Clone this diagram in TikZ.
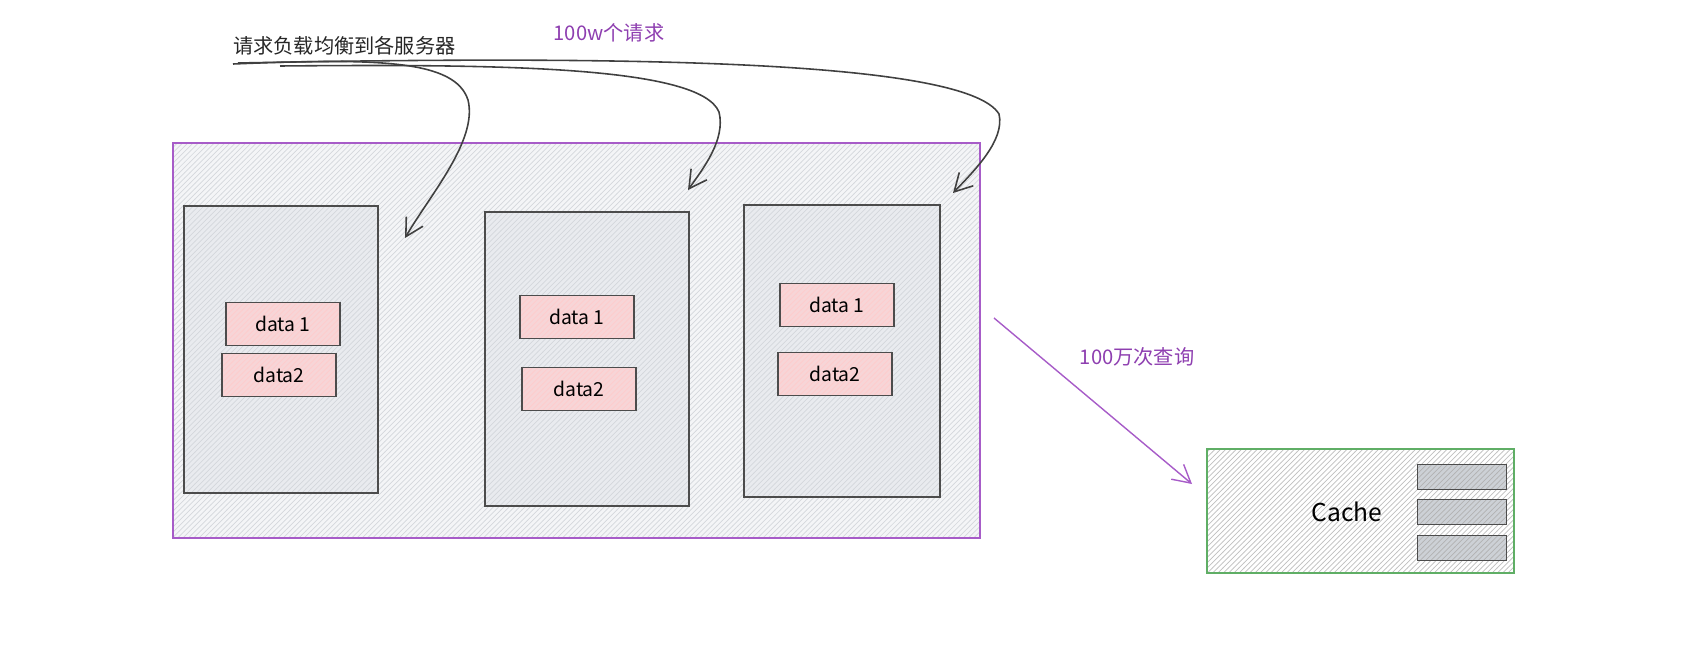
\documentclass[tikz,border=0pt]{standalone}
\usepackage{fontspec}
\setmainfont{Noto Sans CJK SC}
\usetikzlibrary{arrows.meta,patterns,positioning}
\definecolor{boxpurple}{HTML}{A75CC8}
\definecolor{txtpurple}{HTML}{8E3FB0}
\definecolor{cachegreen}{HTML}{5FAE65}
\definecolor{bigfill}{HTML}{F4F5F7}
\definecolor{srvgray}{HTML}{E9EBEF}
\definecolor{datapink}{HTML}{F7D5D7}
\definecolor{bargray}{HTML}{CDD1D6}
\definecolor{hatch}{HTML}{D4D7DC}

\tikzset{
  hatched/.style 2 args={preaction={fill=#1}, preaction={pattern=north east lines, pattern color=#2}},
  outer/.style={draw=boxpurple, line width=1pt, anchor=north west, inner sep=0pt, hatched={bigfill}{hatch}},
  server/.style={draw=black!70, line width=1pt, anchor=north west, inner sep=0pt, hatched={srvgray}{hatch}},
  databox/.style={draw=black!70, line width=1pt, minimum width=2.27cm, minimum height=0.86cm, inner sep=0pt, hatched={datapink}{red!20}, font=\fontsize{11}{13}\selectfont},
  cachebox/.style={draw=cachegreen, line width=1pt, anchor=north west, inner sep=0pt, hatched={white}{black!25}},
  bar/.style={draw=black!70, line width=1pt, minimum width=1.78cm, minimum height=0.5cm, inner sep=0pt, hatched={bargray}{black!30}},
  req/.style={draw=black!75, line width=0.9pt, -{Straight Barb[length=10pt,width=11pt]}},
  lbl/.style={font=\fontsize{11.5}{13}\selectfont}
}

\begin{document}
\begin{tikzpicture}[x=0.02cm, y=-0.02cm]
  \useasboundingbox (0,0) rectangle (1692,663);

  % Server group
  \node[outer, minimum width=16.14cm, minimum height=7.9cm] (group) at (172,142) {};
  \node[server, minimum width=3.88cm, minimum height=5.74cm] (srv1) at (183,205) {};
  \node[server, minimum width=4.08cm, minimum height=5.88cm] (srv2) at (484,211) {};
  \node[server, minimum width=3.92cm, minimum height=5.84cm] (srv3) at (743,204) {};

  % Data on each server
  \foreach \x/\y/\t/\n in {283/324/data 1/s1a, 279/375/data2/s1b,
                           577/317/data 1/s2a, 579/389/data2/s2b,
                           837/305/data 1/s3a, 835/374/data2/s3b} {
    \node[databox] (\n) at (\x,\y) {\t};
  }

  % Cache
  \node[cachebox, minimum width=6.14cm, minimum height=2.48cm] (cache) at (1206,448) {};
  \node[font=\fontsize{14}{16}\selectfont] (cachetext) at (1347,512) {Cache};
  \foreach \y/\n in {477/1, 512/2, 548/3} {
    \node[bar] (bar\n) at (1462,\y) {};
  }

  % Labels
  \node[lbl, anchor=west, black!85] (lbtext) at (227,46) {请求负载均衡到各服务器};
  \node[lbl, txtpurple] (reqtext) at (609,33) {100w个请求};
  \node[lbl, txtpurple] (qtext) at (1137,357) {100万次查询};

  % Request arrows
  \coordinate (src1) at (233,64);
  \coordinate (src2) at (280,66);
  \coordinate (src3) at (238,63);
  \coordinate (bend1) at (468,100);
  \coordinate (bend2) at (719,112);
  \coordinate (bend3) at (999,114);
  \coordinate (end1) at (405,238);
  \coordinate (end2) at (688,190);
  \coordinate (end3) at (953,193);
  \draw[req] (src1) .. controls (380,58) and (455,60) .. (bend1) .. controls (478,140) and (430,195) .. (end1);
  \draw[req] (src2) .. controls (500,64) and (700,66) .. (bend2) .. controls (726,140) and (702,170) .. (end2);
  \draw[req] (src3) .. controls (600,56) and (965,58) .. (bend3) .. controls (1005,140) and (975,170) .. (end3);

  % Query arrow
  \coordinate (qstart) at (994,318);
  \coordinate (qend) at (1192,484);
  \draw[boxpurple, line width=0.8pt, -{Straight Barb[length=10pt,width=11pt]}] (qstart) -- (qend);
\end{tikzpicture}
\end{document}
